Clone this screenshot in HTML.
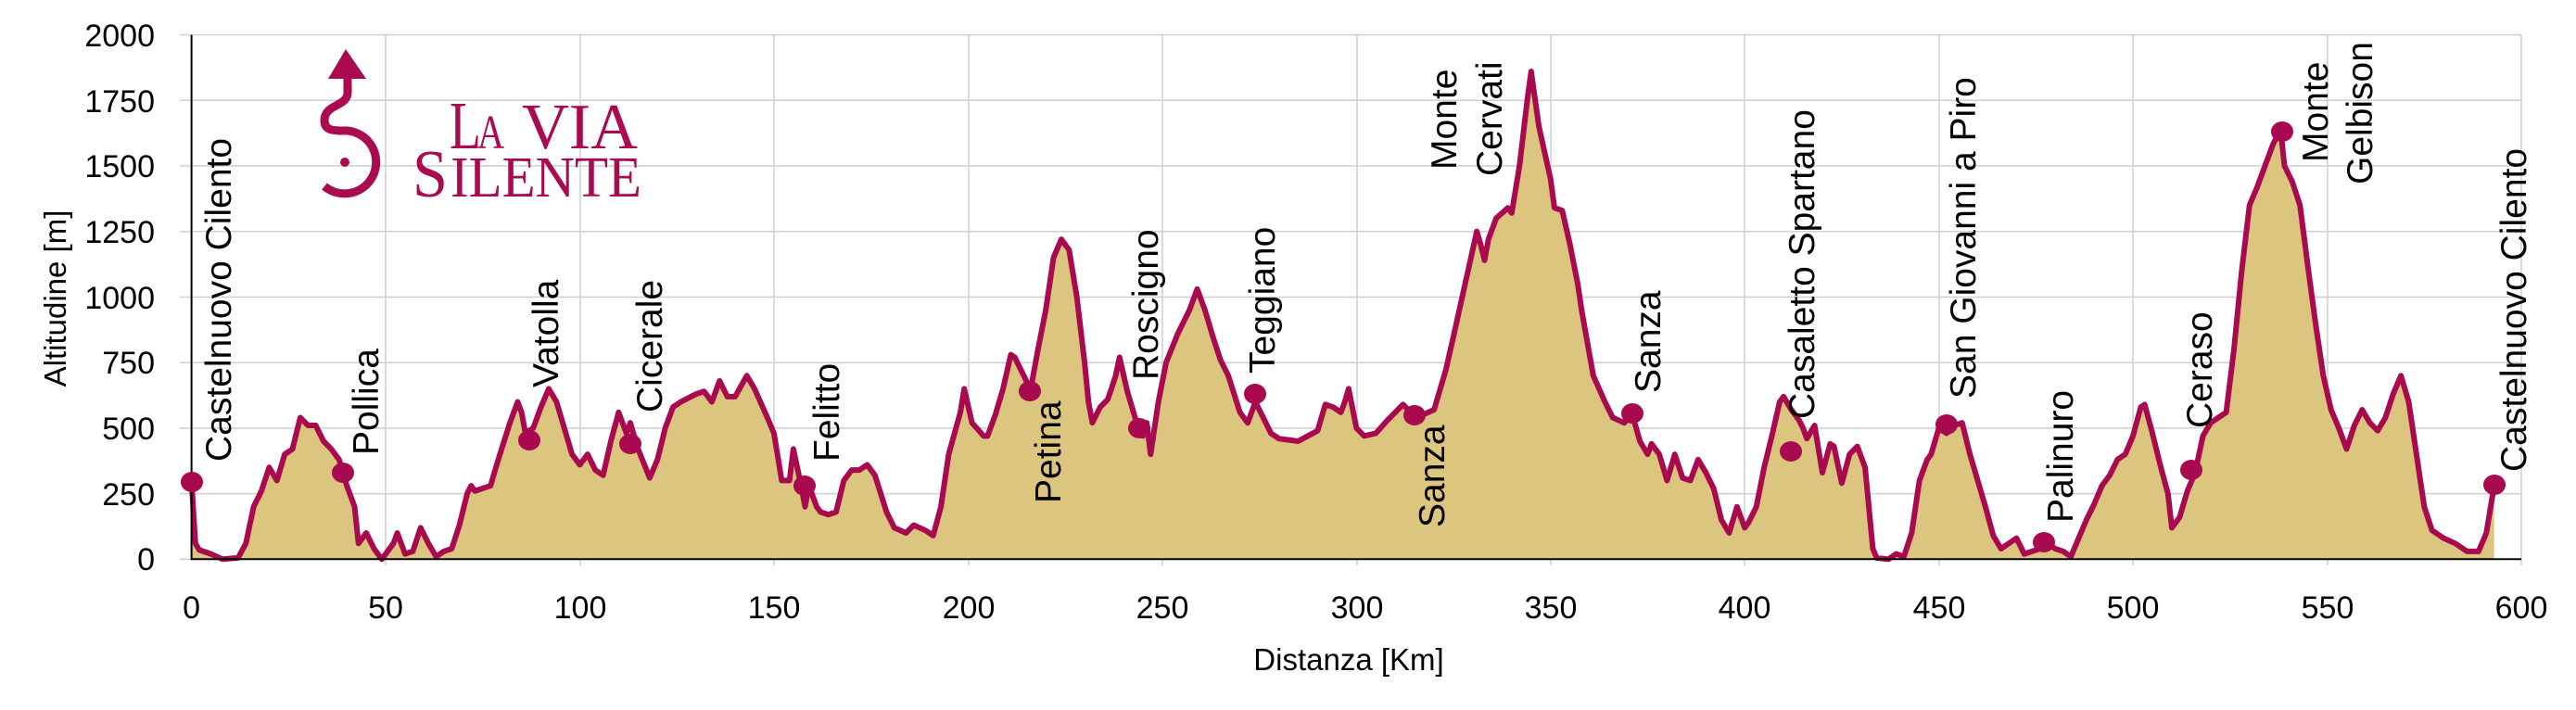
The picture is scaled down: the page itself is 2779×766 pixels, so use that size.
<!DOCTYPE html>
<html><head><meta charset="utf-8"><style>
html,body{margin:0;padding:0;background:#fff}
svg{display:block}
text{font-family:"Liberation Sans",Arial,sans-serif}
</style></head><body>
<svg width="2779" height="766" viewBox="0 0 2779 766" xmlns="http://www.w3.org/2000/svg">
<rect width="2779" height="766" fill="#fff"/>
<g stroke="#cfcfcf" stroke-width="1.5">
<line x1="194" y1="37.6" x2="2720" y2="37.6"/>
<line x1="194" y1="108.3" x2="2720" y2="108.3"/>
<line x1="194" y1="179" x2="2720" y2="179"/>
<line x1="194" y1="249.8" x2="2720" y2="249.8"/>
<line x1="194" y1="320.5" x2="2720" y2="320.5"/>
<line x1="194" y1="391.2" x2="2720" y2="391.2"/>
<line x1="194" y1="461.9" x2="2720" y2="461.9"/>
<line x1="194" y1="532.6" x2="2720" y2="532.6"/>
<line x1="194" y1="603.3" x2="206" y2="603.3"/>
<line x1="416" y1="37.6" x2="416" y2="610"/>
<line x1="626" y1="37.6" x2="626" y2="610"/>
<line x1="835" y1="37.6" x2="835" y2="610"/>
<line x1="1045" y1="37.6" x2="1045" y2="610"/>
<line x1="1254" y1="37.6" x2="1254" y2="610"/>
<line x1="1464" y1="37.6" x2="1464" y2="610"/>
<line x1="1673" y1="37.6" x2="1673" y2="610"/>
<line x1="1882" y1="37.6" x2="1882" y2="610"/>
<line x1="2092" y1="37.6" x2="2092" y2="610"/>
<line x1="2301" y1="37.6" x2="2301" y2="610"/>
<line x1="2511" y1="37.6" x2="2511" y2="610"/>
<line x1="2720" y1="37.6" x2="2720" y2="610"/>
</g>
<!-- logo -->
<g fill="#AA0A4F">
<polygon points="373,53 354,85 395,85"/>
<path d="M375,83 L375,100 C375,115 350,112 350,130 C350,142 362,141 375,141 A34,34 0 1 1 350,201" fill="none" stroke="#AA0A4F" stroke-width="9"/>
<circle cx="372" cy="175" r="5"/>
<text x="485" y="160" font-family="Liberation Serif,serif" font-size="73" textLength="34" lengthAdjust="spacingAndGlyphs" style="font-family:'Liberation Serif',serif">L</text>
<text x="515" y="160" font-size="52" textLength="29" lengthAdjust="spacingAndGlyphs" style="font-family:'Liberation Serif',serif">A</text>
<text x="563" y="160" font-size="70" textLength="125" lengthAdjust="spacingAndGlyphs" style="font-family:'Liberation Serif',serif">VIA</text>
<text x="445" y="212" font-size="73" textLength="38" lengthAdjust="spacingAndGlyphs" style="font-family:'Liberation Serif',serif">S</text>
<text x="486" y="212" font-size="62" textLength="206" lengthAdjust="spacingAndGlyphs" style="font-family:'Liberation Serif',serif">ILENTE</text>
</g>
<!-- profile -->
<g transform="matrix(4.189,0,0,-0.2829,206.6,603.3)">
<polygon fill="#DCC57E" points="0,0 0,300 1,60 2,35 5,20 8,0 12,5 14,60 16,200 18,260 20,350 22,300 24,400 26,420 28,540 30,510 32,510 34,450 36,420 38,380 40,280 42,200 43,60 45,100 47,40 49,0 52,60 53,100 55,20 57,30 59,120 61,60 63,10 65,30 67,40 69,130 71,250 72,280 73,260 77,280 79,380 82,520 84,600 85,560 86,480 88,500 90,580 92,650 94,600 96,500 98,400 100,360 102,400 104,340 106,320 108,450 110,560 112,480 113,520 115,420 118,310 120,380 122,500 124,580 126,600 130,630 132,640 134,600 136,680 138,620 140,620 143,700 145,650 148,550 150,480 152,300 154,300 155,420 157,280 158,200 159,280 161,200 162,180 164,170 166,180 168,300 170,340 172,340 174,360 176,320 179,180 181,120 184,100 186,130 189,110 191,90 193,200 195,400 198,560 199,650 201,520 204,470 205,470 207,550 209,650 211,780 212,770 215,680 216,640 218,800 220,950 222,1150 224,1220 226,1180 228,1000 230,750 231,600 232,520 234,580 236,610 238,700 239,770 241,640 243,540 245,470 246,520 247,400 249,600 251,750 254,860 257,950 259,1030 261,950 263,850 265,760 267,700 270,560 272,520 273,560 274,600 276,540 278,480 280,460 285,450 290,490 292,590 294,580 296,560 297,600 298,650 300,500 302,470 305,480 308,530 310,560 312,590 314,560 317,550 320,570 323,720 325,850 328,1050 331,1250 332,1200 333,1140 334,1220 336,1300 339,1340 340,1320 342,1500 344,1750 345,1860 347,1650 350,1450 351,1340 353,1330 355,1200 357,1050 358,950 361,700 364,600 366,540 369,520 371,555 373,450 375,400 376,440 378,400 380,300 382,400 384,310 386,300 388,380 390,330 392,270 394,150 396,100 398,200 400,120 401,140 403,200 405,350 407,470 409,600 410,620 412,570 414,530 415,500 416,460 418,510 420,330 422,440 423,430 425,290 427,400 429,430 431,350 433,40 434,5 437,0 439,20 441,10 443,100 445,300 447,380 448,400 450,500 452,480 454,510 456,520 458,400 460,300 462,200 464,90 466,40 468,60 470,80 472,20 474,30 476,40 478,60 480,40 482,30 484,10 486,80 488,150 490,210 492,280 494,320 496,380 498,400 500,470 502,580 503,590 505,480 507,360 509,250 510,120 512,160 514,260 516,330 518,470 520,520 522,540 524,560 526,800 528,1100 530,1350 532,1420 534,1500 536,1580 538,1640 539,1500 541,1440 543,1350 545,1120 547,900 549,700 551,570 553,500 555,420 557,510 559,570 561,520 563,490 565,540 567,630 569,700 571,600 573,400 575,200 577,110 580,80 583,60 586,30 589,30 591,100 593,280 593,0"/>
<polyline fill="none" stroke="#A8094F" stroke-width="6" stroke-linejoin="round" vector-effect="non-scaling-stroke" points="0,300 1,60 2,35 5,20 8,0 12,5 14,60 16,200 18,260 20,350 22,300 24,400 26,420 28,540 30,510 32,510 34,450 36,420 38,380 40,280 42,200 43,60 45,100 47,40 49,0 52,60 53,100 55,20 57,30 59,120 61,60 63,10 65,30 67,40 69,130 71,250 72,280 73,260 77,280 79,380 82,520 84,600 85,560 86,480 88,500 90,580 92,650 94,600 96,500 98,400 100,360 102,400 104,340 106,320 108,450 110,560 112,480 113,520 115,420 118,310 120,380 122,500 124,580 126,600 130,630 132,640 134,600 136,680 138,620 140,620 143,700 145,650 148,550 150,480 152,300 154,300 155,420 157,280 158,200 159,280 161,200 162,180 164,170 166,180 168,300 170,340 172,340 174,360 176,320 179,180 181,120 184,100 186,130 189,110 191,90 193,200 195,400 198,560 199,650 201,520 204,470 205,470 207,550 209,650 211,780 212,770 215,680 216,640 218,800 220,950 222,1150 224,1220 226,1180 228,1000 230,750 231,600 232,520 234,580 236,610 238,700 239,770 241,640 243,540 245,470 246,520 247,400 249,600 251,750 254,860 257,950 259,1030 261,950 263,850 265,760 267,700 270,560 272,520 273,560 274,600 276,540 278,480 280,460 285,450 290,490 292,590 294,580 296,560 297,600 298,650 300,500 302,470 305,480 308,530 310,560 312,590 314,560 317,550 320,570 323,720 325,850 328,1050 331,1250 332,1200 333,1140 334,1220 336,1300 339,1340 340,1320 342,1500 344,1750 345,1860 347,1650 350,1450 351,1340 353,1330 355,1200 357,1050 358,950 361,700 364,600 366,540 369,520 371,555 373,450 375,400 376,440 378,400 380,300 382,400 384,310 386,300 388,380 390,330 392,270 394,150 396,100 398,200 400,120 401,140 403,200 405,350 407,470 409,600 410,620 412,570 414,530 415,500 416,460 418,510 420,330 422,440 423,430 425,290 427,400 429,430 431,350 433,40 434,5 437,0 439,20 441,10 443,100 445,300 447,380 448,400 450,500 452,480 454,510 456,520 458,400 460,300 462,200 464,90 466,40 468,60 470,80 472,20 474,30 476,40 478,60 480,40 482,30 484,10 486,80 488,150 490,210 492,280 494,320 496,380 498,400 500,470 502,580 503,590 505,480 507,360 509,250 510,120 512,160 514,260 516,330 518,470 520,520 522,540 524,560 526,800 528,1100 530,1350 532,1420 534,1500 536,1580 538,1640 539,1500 541,1440 543,1350 545,1120 547,900 549,700 551,570 553,500 555,420 557,510 559,570 561,520 563,490 565,540 567,630 569,700 571,600 573,400 575,200 577,110 580,80 583,60 586,30 589,30 591,100 593,280"/>
</g>
<!-- axes -->
<line x1="206.6" y1="37.6" x2="206.6" y2="604" stroke="#000" stroke-width="2"/>
<line x1="206" y1="603.3" x2="2720" y2="603.3" stroke="#000" stroke-width="2"/>
<!-- markers -->
<g fill="#A8094F">
<ellipse cx="207" cy="520" rx="12" ry="11"/>
<ellipse cx="370" cy="510" rx="12" ry="11"/>
<ellipse cx="571" cy="475" rx="12" ry="11"/>
<ellipse cx="680" cy="479" rx="12" ry="11"/>
<ellipse cx="868" cy="524" rx="12" ry="11"/>
<ellipse cx="1111" cy="422" rx="12" ry="11"/>
<ellipse cx="1229" cy="462" rx="12" ry="11"/>
<ellipse cx="1354" cy="425" rx="12" ry="11"/>
<ellipse cx="1526" cy="448" rx="12" ry="11"/>
<ellipse cx="1761" cy="446" rx="12" ry="11"/>
<ellipse cx="1932" cy="487" rx="12" ry="11"/>
<ellipse cx="2100" cy="458" rx="12" ry="11"/>
<ellipse cx="2205" cy="585" rx="12" ry="11"/>
<ellipse cx="2364" cy="507" rx="12" ry="11"/>
<ellipse cx="2462" cy="142" rx="12" ry="11"/>
<ellipse cx="2691" cy="523" rx="12" ry="11"/>
</g>
<!-- labels -->
<g font-size="39" fill="#000">
<text transform="translate(249,498) rotate(-90)">Castelnuovo Cilento</text>
<text transform="translate(408,491) rotate(-90)">Pollica</text>
<text transform="translate(602,418) rotate(-90)">Vatolla</text>
<text transform="translate(714,445) rotate(-90)">Cicerale</text>
<text transform="translate(905,498) rotate(-90)">Felitto</text>
<text transform="translate(1144,543) rotate(-90)">Petina</text>
<text transform="translate(1249,410) rotate(-90)">Roscigno</text>
<text transform="translate(1375,403) rotate(-90)">Teggiano</text>
<text transform="translate(1558,569) rotate(-90)">Sanza</text>
<text transform="translate(1571,183) rotate(-90)">Monte</text>
<text transform="translate(1620,190) rotate(-90)">Cervati</text>
<text transform="translate(1791,424) rotate(-90)">Sanza</text>
<text transform="translate(1957,452) rotate(-90)">Casaletto Spartano</text>
<text transform="translate(2131,430) rotate(-90)">San Giovanni a Piro</text>
<text transform="translate(2236,564) rotate(-90)">Palinuro</text>
<text transform="translate(2386,462) rotate(-90)">Ceraso</text>
<text transform="translate(2511,175) rotate(-90)">Monte</text>
<text transform="translate(2559,199) rotate(-90)">Gelbison</text>
<text transform="translate(2725,509) rotate(-90)">Castelnuovo Cilento</text>
</g>
<!-- tick labels -->
<g font-size="34" fill="#000" text-anchor="end">
<text x="167" y="50">2000</text>
<text x="167" y="121">1750</text>
<text x="167" y="191">1500</text>
<text x="167" y="262">1250</text>
<text x="167" y="333">1000</text>
<text x="167" y="403">750</text>
<text x="167" y="474">500</text>
<text x="167" y="545">250</text>
<text x="167" y="615">0</text>
</g>
<g font-size="34" fill="#000" text-anchor="middle">
<text x="206.6" y="667">0</text>
<text x="416" y="667">50</text>
<text x="626" y="667">100</text>
<text x="835" y="667">150</text>
<text x="1045" y="667">200</text>
<text x="1254" y="667">250</text>
<text x="1464" y="667">300</text>
<text x="1673" y="667">350</text>
<text x="1882" y="667">400</text>
<text x="2092" y="667">450</text>
<text x="2301" y="667">500</text>
<text x="2511" y="667">550</text>
<text x="2720" y="667">600</text>
<text x="1455" y="723" font-size="33">Distanza [Km]</text>
<text transform="translate(71,322) rotate(-90)" font-size="33">Altitudine [m]</text>
</g>
</svg>
</body></html>
